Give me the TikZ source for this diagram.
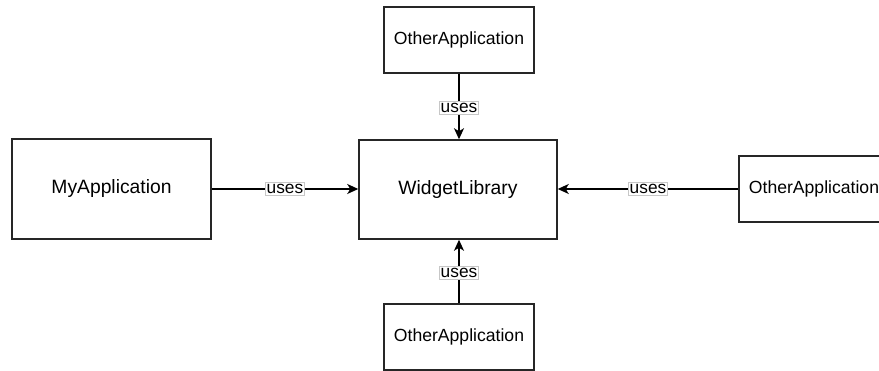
\documentclass[tikz,border=0pt]{standalone}
\usepackage{fontspec}
\setmainfont{Liberation Sans}
\usetikzlibrary{arrows.meta}
\begin{document}
\begin{tikzpicture}[x=1pt,y=-1pt,
  box/.style={draw=black!85,line width=1.5pt,fill=white,inner sep=0pt},
  bigbox/.style={box,minimum width=199pt,minimum height=100pt,font=\fontsize{19.3}{23}\selectfont},
  smallbox/.style={box,minimum width=150pt,minimum height=66pt,font=\fontsize{17.6}{21}\selectfont},
  uses/.style={draw=black,line width=1.5pt,-{Stealth[length=11pt,width=10pt,inset=3pt]}},
  usetag/.style={fill=white,draw=black!22,line width=0.6pt,inner xsep=1pt,inner ysep=1.5pt,font=\fontsize{17.3}{20}\selectfont}]
  \useasboundingbox (0,0) rectangle (879,371);
  \clip (0,0) rectangle (879,371);
  \fill[white] (0,0) rectangle (879,371);
  \node[bigbox] (my) at (111.5,189) {MyApplication};
  \node[bigbox,minimum width=198pt,minimum height=99pt] (wl) at (458,189.5) {WidgetLibrary};
  \node[smallbox] (top) at (459,40) {OtherApplication};
  \node[smallbox] (bot) at (459,337) {OtherApplication};
  \node[smallbox] (rt) at (814,189) {OtherApplication};
  \draw[uses] (my.east|-0,189) -- (wl.west|-0,189) node[usetag,pos=0.5] {uses};
  \draw[uses] (rt.west) -- (wl.east|-rt.west) node[usetag,pos=0.5] {uses};
  \draw[uses] (top) -- (wl.north-|top.south) node[usetag,pos=0.52] {uses};
  \draw[uses] (bot) -- (wl.south-|bot.north) node[usetag,pos=0.48] {uses};
\end{tikzpicture}
\end{document}
